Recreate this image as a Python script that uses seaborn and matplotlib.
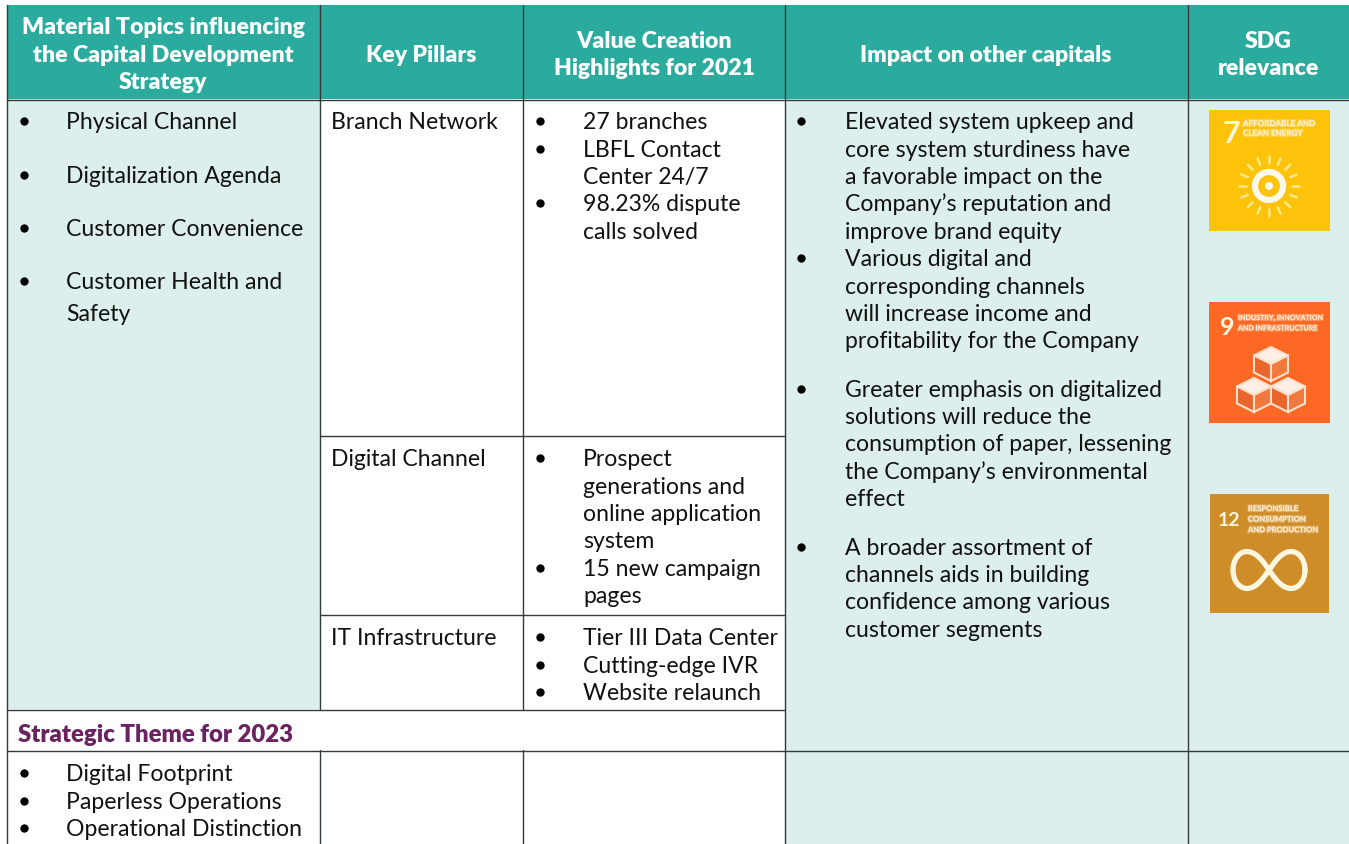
import numpy as np
import pandas as pd
import matplotlib
matplotlib.use('Agg')
import matplotlib.pyplot as plt
import matplotlib.patheffects as pe
from matplotlib.patches import Circle, Polygon, Rectangle
import seaborn as sns

# table text
header_lines = ['Material Topics influencing', 'the Capital Development', 'Strategy', 'Key Pillars',
                'Value Creation', 'Highlights for 2021', 'Impact on other capitals', 'SDG', 'relevance']
topics = ['Physical Channel', 'Digitalization Agenda', 'Customer Convenience', 'Customer Health and', 'Safety']
pillars = ['Branch Network', 'Digital Channel', 'IT Infrastructure']
highlights = ['27 branches', 'LBFL Contact', 'Center 24/7', '98.23% dispute', 'calls solved',
              'Prospect', 'generations and', 'online application', 'system', '15 new campaign', 'pages',
              'Tier III Data Center', 'Cutting-edge IVR', 'Website relaunch']
impacts = ['Elevated system upkeep and', 'core system sturdiness have', 'a favorable impact on the',
           'Company\u2019s reputation and', 'improve brand equity',
           'Various digital and', 'corresponding channels', 'will increase income and',
           'profitability for the Company',
           'Greater emphasis on digitalized', 'solutions will reduce the', 'consumption of paper, lessening',
           'the Company\u2019s environmental', 'effect',
           'A broader assortment of', 'channels aids in building', 'confidence among various',
           'customer segments']
theme_title = 'Strategic Theme for 2023'
themes = ['Digital Footprint', 'Paperless Operations', 'Operational Distinction']
sdg_titles = ['AFFORDABLE AND\nCLEAN ENERGY', 'INDUSTRY, INNOVATION\nAND INFRASTRUCTURE',
              'RESPONSIBLE\nCONSUMPTION\nAND PRODUCTION']
sdg_numbers = ['7', '9', '12']

# baselines in pixels, same order as the lists above
header_y = [34, 62, 89, 62, 48, 75, 62, 48, 75]
header_x = [163, 163, 163, 421, 654, 654, 986, 1268, 1268]
topics_y = [129, 183, 236, 289, 321]
pillars_y = [129, 466, 645]
highlights_y = [129, 157, 184, 211, 239, 466, 494, 521, 548, 576, 603, 645, 673, 700]
impacts_y = [129, 157, 184, 211, 239, 266, 294, 321, 348, 397, 424, 451, 479, 506, 555, 582, 609, 637]
themes_y = [781, 809, 836]

TEAL = '#2BAB9D'
LIGHT = '#DCEFEC'
LINE = '#333a3a'
PURPLE = '#6A2360'
FS = 16.6

sns.set_theme(style='white')
plt.rcParams['font.family'] = ['Lato', 'DejaVu Sans']

fig = plt.figure(figsize=(13.49, 8.45), dpi=100)
ax = fig.add_axes([0, 0, 1, 1])
ax.set_xlim(0, 1349)
ax.set_ylim(845, 0)
ax.axis('off')

# cell fills
ax.add_patch(Rectangle((7, 5.5), 1342, 94.5, color=TEAL, lw=0))
ax.add_patch(Rectangle((7, 100), 313, 610, color=LIGHT, lw=0))
ax.add_patch(Rectangle((785, 100), 564, 745, color=LIGHT, lw=0))

# grid lines
for x, y0, y1 in [(7, 5.5, 845), (320, 5.5, 710), (320, 751, 845), (523, 5.5, 710), (523, 751, 845),
                  (785, 5.5, 845), (1188, 5.5, 845)]:
    ax.plot([x, x], [y0, y1], color=LINE, lw=1)
for y, x0, x1 in [(100, 7, 1349), (436, 320, 785), (615, 320, 785), (710, 7, 785), (751, 7, 1349)]:
    ax.plot([x0, x1], [y + .5, y + .5], color=LINE, lw=1)

for s, x, y in zip(header_lines, header_x, header_y):
    ax.text(x, y, s, color='white', fontsize=16.6, fontweight=800, ha='center', va='baseline')


def column(lines, ys, x):
    for s, y in zip(lines, ys):
        ax.text(x, y, s, color='#111111', fontsize=FS, ha='left', va='baseline')


column(topics, topics_y, 66)
column(pillars, pillars_y, 331)
column(highlights, highlights_y, 583)
column(impacts, impacts_y, 845)
column(themes, themes_y, 66)
ax.text(18, 742, theme_title, color=PURPLE, fontsize=17.2, fontweight=800, ha='left', va='baseline')

# bullets
bullets = pd.DataFrame({
    'x': [24] * 4 + [540] * 6 + [801] * 4 + [24] * 3 + [540] * 2,
    'y': [topics_y[0], topics_y[1], topics_y[2], topics_y[3],
          highlights_y[0], highlights_y[1], highlights_y[3], highlights_y[5], highlights_y[9], highlights_y[11],
          impacts_y[0], impacts_y[5], impacts_y[9], impacts_y[14],
          themes_y[0], themes_y[1], themes_y[2], highlights_y[12], highlights_y[13]],
})
bullets['y'] = bullets['y'] - 7
sns.scatterplot(data=bullets, x='x', y='y', color='black', s=36, linewidth=0, ax=ax, legend=False, zorder=3)
ax.set_xlim(0, 1349)
ax.set_ylim(845, 0)
ax.axis('off')

# SDG tiles
tiles = [(1209, 110, 121, '#FDC30B'), (1209, 302, 121, '#FD6925'), (1210, 494, 119, '#CF8D2A')]
num_pos = [(1223, 143, 22), (1220, 335, 18), (1218, 526, 14)]
title_pos = [(1243, 121, 5.8, 1.45), (1238, 315, 5.1, 1.55), (1248, 506, 5.5, 1.6)]
halo = [pe.withStroke(linewidth=1.6, foreground='#FFF1D8', alpha=.35)]
for (x, y, w, c), num, title, (nx, ny, nfs), (tx, ty, tfs, tls) in zip(tiles, sdg_numbers, sdg_titles, num_pos, title_pos):
    ax.add_patch(Rectangle((x, y + 1), w, w, color=c, lw=0))
    ax.text(nx, ny, num, color='#FFF6DF', fontsize=nfs, fontweight='bold', va='baseline')
    ax.text(tx, ty, title, color='#FFF1D8', fontsize=tfs, fontweight='bold', va='top', linespacing=tls,
            path_effects=halo)

# sun
cx, cy = 1269, 187
for a in np.arange(0, 360, 22.5):
    r = np.deg2rad(a)
    ax.plot([cx + 23 * np.cos(r), cx + 30 * np.cos(r)], [cy + 23 * np.sin(r), cy + 30 * np.sin(r)],
            color='#FFF2A8', lw=1.8, alpha=.8)
ax.add_patch(Circle((cx, cy), 14, fc='none', ec='#FFF8EC', lw=4.5))
ax.add_patch(Circle((cx, cy), 4, fc='#FFF8EC', lw=0))


# cubes
def cube(cx, cy, s):
    top = [(cx, cy - s), (cx + s, cy - s / 2), (cx, cy), (cx - s, cy - s / 2)]
    left = [(cx - s, cy - s / 2), (cx, cy), (cx, cy + s), (cx - s, cy + s / 2)]
    right = [(cx + s, cy - s / 2), (cx, cy), (cx, cy + s), (cx + s, cy + s / 2)]
    ax.add_patch(Polygon(top, fc='#FFEFE6', ec='#FFE0CC', lw=1.5))
    ax.add_patch(Polygon(left, fc='#E8662C', ec='#FFE0CC', lw=1.5))
    ax.add_patch(Polygon(right, fc='#F07A3E', ec='#FFE0CC', lw=1.5))


cube(1271, 365, 17)
cube(1254, 396, 17)
cube(1288, 396, 17)

# infinity
t = np.linspace(0, 2 * np.pi, 200)
ax.plot(1269 + 36 * np.cos(t) / (1 + np.sin(t) ** 2), 571 + 36 * 1.45 * np.sin(t) * np.cos(t) / (1 + np.sin(t) ** 2),
        color='#FFF6DF', lw=3.8)

fig.savefig('out.png', dpi=100)
